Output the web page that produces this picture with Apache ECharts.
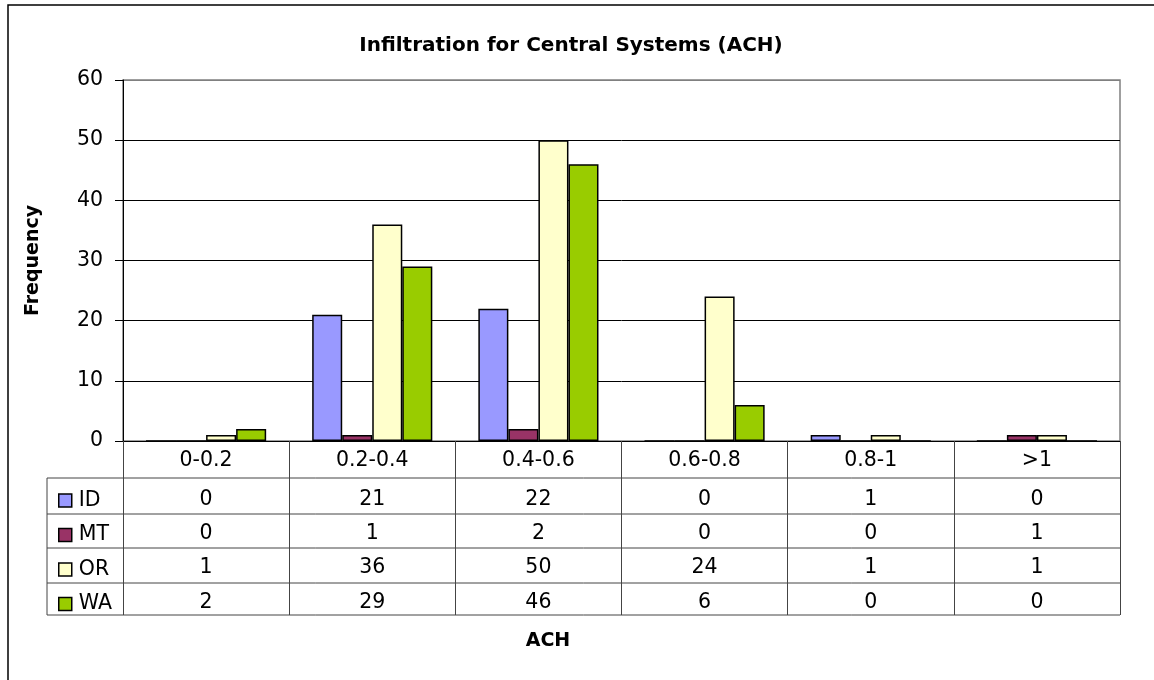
<!DOCTYPE html>
<html>
<head>
<meta charset="utf-8">
<script src="https://cdn.jsdelivr.net/npm/echarts@6/dist/echarts.min.js"></script>
<style>
  html, body { margin: 0; padding: 0; background: #fff; }
  #chart { width: 1154px; height: 680px; }
</style>
</head>
<body>
<div id="chart"></div>
<script>
  // data
  const categories = ['0-0.2', '0.2-0.4', '0.4-0.6', '0.6-0.8', '0.8-1', '>1'];
  const seriesNames = ['ID', 'MT', 'OR', 'WA'];
  const idData = [0, 21, 22, 0, 1, 0];
  const mtData = [0, 1, 2, 0, 0, 1];
  const orData = [1, 36, 50, 24, 1, 1];
  const waData = [2, 29, 46, 6, 0, 0];
  const yTicks = [0, 10, 20, 30, 40, 50, 60];

  const colors = ['#9999FF', '#993366', '#FFFFCC', '#99CC00'];
  const allData = [idData, mtData, orData, waData];

  // layout (px)
  const plotLeft = 123, plotRight = 1120, plotTop = 80, plotBottom = 441;
  const tableLeft = 47, tableBottom = 615;
  const rowLines = [478, 514, 548, 583, 615];
  const rowOffsets = [39, 73, 107, 142]; // value rows below axis
  const FONT = 'DejaVu Sans';
  const FS = 20.5;

  const chart = echarts.init(document.getElementById('chart'));

  // x axes: main one for the bars, the rest only show the table rows
  const xAxes = [{
    type: 'category',
    data: categories,
    axisLine: { lineStyle: { color: '#000', width: 1 } },
    axisTick: { show: true, length: tableBottom - plotBottom, lineStyle: { color: '#444', width: 1 } },
    axisLabel: { color: '#000', fontFamily: FONT, fontSize: FS, margin: 9 }
  }];
  allData.forEach(function (d, i) {
    xAxes.push({
      type: 'category',
      position: 'bottom',
      offset: rowOffsets[i],
      data: d.map(String),
      axisLine: { show: false },
      axisTick: { show: false },
      axisLabel: { color: '#000', fontFamily: FONT, fontSize: FS, margin: 9 }
    });
  });

  const series = seriesNames.map(function (name, i) {
    return {
      name: name,
      type: 'bar',
      xAxisIndex: 0,
      data: allData[i],
      barGap: '0%',
      barCategoryGap: '27.7%',
      itemStyle: { color: colors[i], borderColor: '#000', borderWidth: 1.5 }
    };
  });

  const graphic = [{
    type: 'rect',
    shape: { x: 8, y: 5, width: 1160, height: 690 },
    style: { fill: 'none', stroke: '#000', lineWidth: 1.5 },
    silent: true
  }, {
    type: 'line',
    shape: { x1: tableLeft, y1: rowLines[0], x2: tableLeft, y2: tableBottom },
    style: { stroke: '#444', lineWidth: 1 }
  }, {
    type: 'text',
    x: 548, y: 641,
    style: { text: 'ACH', fontFamily: FONT, fontSize: 19, fontWeight: 'bold', fill: '#000', align: 'center', verticalAlign: 'middle' }
  }];
  rowLines.forEach(function (y) {
    graphic.push({
      type: 'line',
      shape: { x1: tableLeft, y1: y, x2: plotRight, y2: y },
      style: { stroke: '#444', lineWidth: 1 }
    });
  });

  const option = {
    animation: false,
    title: {
      text: 'Infiltration for Central Systems (ACH)',
      left: 566,
      top: 31,
      textAlign: 'center',
      textStyle: { fontFamily: FONT, fontSize: 20, fontWeight: 'bold', color: '#000' }
    },
    legend: {
      orient: 'vertical',
      left: 53,
      top: 485,
      itemWidth: 13,
      itemHeight: 13,
      itemGap: 13.5,
      icon: 'rect',
      data: seriesNames,
      itemStyle: { borderColor: '#000', borderWidth: 1.5 },
      textStyle: { fontFamily: FONT, fontSize: FS, color: '#000', padding: [0, 0, 0, 2] }
    },
    grid: {
      left: plotLeft,
      right: 1154 - plotRight,
      top: plotTop,
      bottom: 680 - plotBottom,
      show: true,
      borderColor: '#808080',
      borderWidth: 1.5
    },
    xAxis: xAxes,
    yAxis: {
      type: 'value',
      min: yTicks[0],
      max: yTicks[yTicks.length - 1],
      interval: 10,
      name: 'Frequency',
      nameLocation: 'middle',
      nameRotate: 90,
      nameGap: 80,
      nameTextStyle: { fontFamily: FONT, fontSize: 19, fontWeight: 'bold', color: '#000' },
      axisLine: { show: true, lineStyle: { color: '#000', width: 1 } },
      axisTick: { show: true, length: 8, lineStyle: { color: '#000' } },
      axisLabel: { color: '#000', fontFamily: FONT, fontSize: FS, margin: 20 },
      splitLine: { lineStyle: { color: ['#000', '#000', '#000', '#000', '#000', '#000', '#808080'], width: 1 } }
    },
    series: series,
    graphic: graphic
  };

  chart.setOption(option);
</script>
</body>
</html>
